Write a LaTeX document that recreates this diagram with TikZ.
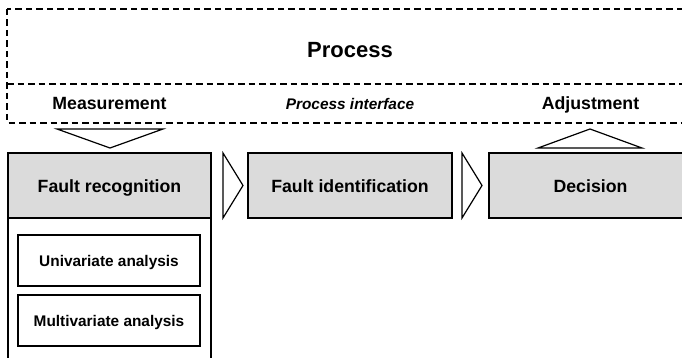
\documentclass[tikz,border=0pt]{standalone}
\usepackage{fontspec}
\setmainfont{Liberation Sans}
\begin{document}
\begin{tikzpicture}[x=1pt,y=-1pt,line width=1.2pt,
  stage/.style={draw,fill=black!14,minimum width=203pt,minimum height=65pt,
    inner sep=0pt,text height=15pt,text depth=0pt,
    font=\fontsize{17.7}{20}\selectfont\bfseries},
  method/.style={draw,fill=white,minimum width=182pt,minimum height=51pt,
    inner sep=0pt,text height=11pt,text depth=0pt,
    font=\fontsize{15.4}{18}\selectfont\bfseries},
  tag/.style={anchor=base,inner sep=0pt,font=\fontsize{17.7}{20}\selectfont\bfseries},
  frame/.style={dash pattern=on 6.5pt off 4pt},
  chevron/.style={line join=miter}]
\useasboundingbox (0,0) rectangle (682,358);
\clip (0,0) rectangle (682,358);

% process frame with the interface strip
\draw[frame] (7,9) rectangle (693,123);
\draw[frame] (7,84) -- (693,84);
\node[anchor=base,inner sep=0pt,font=\fontsize{22}{26}\selectfont\bfseries] (proc) at (350,58) {Process};
\node[tag] (meas) at (109.5,110) {Measurement};
\node[anchor=base,inner sep=0pt,font=\fontsize{15.4}{18}\selectfont\bfseries\itshape] (iface) at (350,110) {Process interface};
\node[tag] (adj) at (590.5,110) {Adjustment};

% column below fault recognition
\draw (8,218) -- (8,370) (211,218) -- (211,370);

% stages
\node[stage] (fr) at (109.5,185.5) {Fault recognition};
\node[stage,minimum width=204pt] (fi) at (350,185.5) {Fault identification};
\node[stage] (dec) at (590.5,185.5) {Decision};

% analysis methods
\node[method] (uni) at (109,260.5) {Univariate analysis};
\node[method] (multi) at (109,320.5) {Multivariate analysis};

% measurement flows down, adjustment flows up
\draw[chevron] (57,129) -- (163,129) -- (110,148) -- cycle;
\draw[chevron] (538,148) -- (642,148) -- (590,129) -- cycle;

% flow between stages
\draw[chevron] (223,153) -- (243,185.5) -- (223,218) -- cycle;
\draw[chevron] (462,153) -- (482,185.5) -- (462,218) -- cycle;
\end{tikzpicture}
\end{document}
